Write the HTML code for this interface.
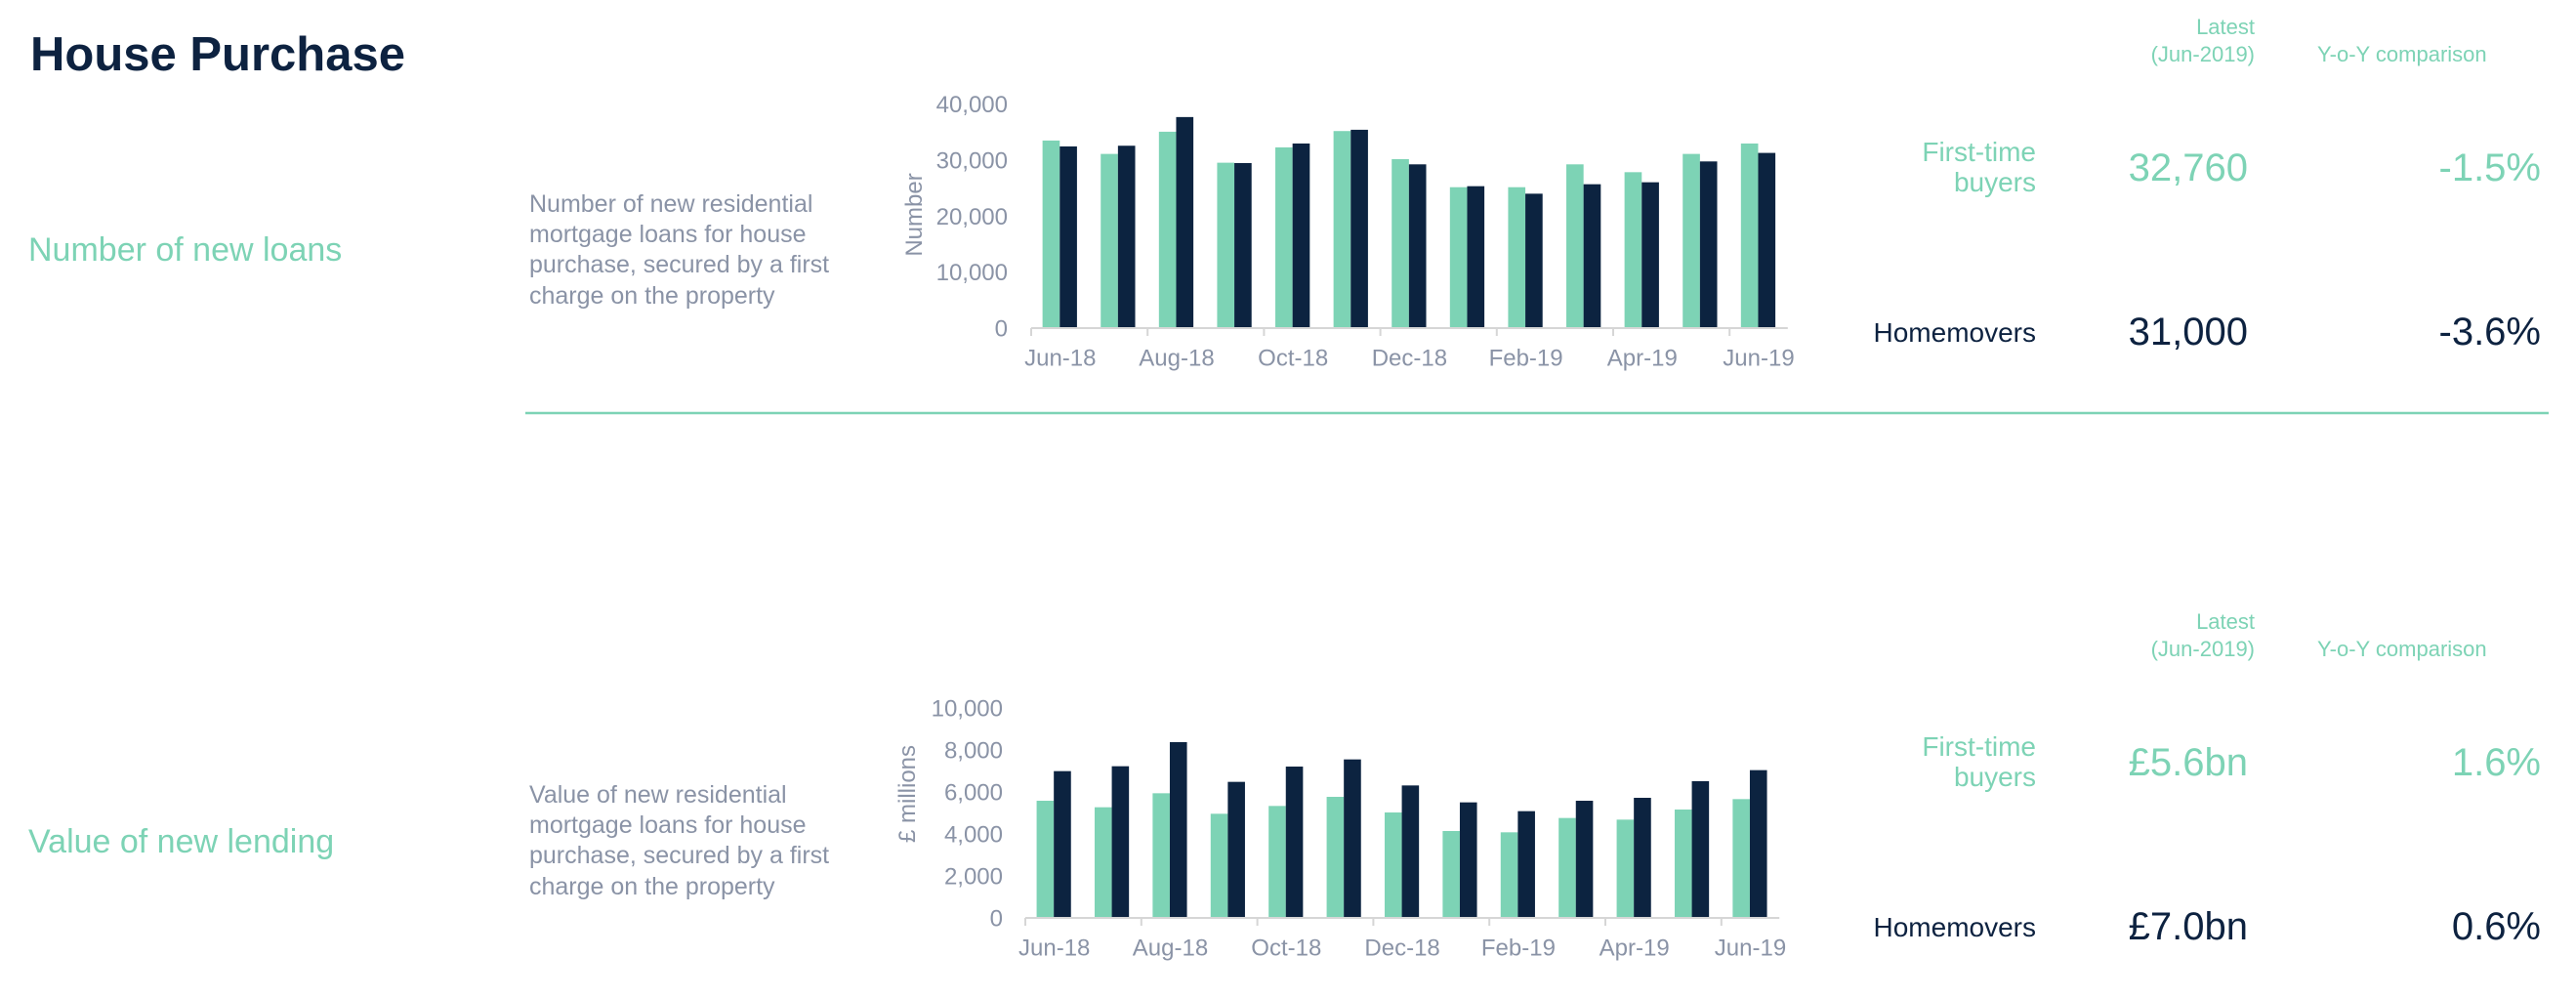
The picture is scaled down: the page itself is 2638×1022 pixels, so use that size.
<!DOCTYPE html>
<html><head><meta charset="utf-8"><style>
html,body{margin:0;padding:0;background:#fff;}
svg{display:block;font-family:"Liberation Sans",Arial,sans-serif;}
</style></head><body>
<svg id="page" width="2638" height="1022" viewBox="0 0 2638 1022" xmlns="http://www.w3.org/2000/svg">
<rect width="2638" height="1022" fill="#fff"/>
<text x="31" y="72" font-size="49" font-weight="bold" fill="#0d2240">House Purchase</text>

<!-- Section 1 -->
<text x="29" y="267" font-size="34" fill="#7dd3b5">Number of new loans</text>
<g fill="#8a93a6" font-size="25">
<text x="542" y="217">Number of new residential</text>
<text x="542" y="248">mortgage loans for house</text>
<text x="542" y="279">purchase, secured by a first</text>
<text x="542" y="311">charge on the property</text>
</g>
<g id="chart1"></g>
<text x="2309" y="35" font-size="22" fill="#7dd3b5" text-anchor="end">Latest</text>
<text x="2309" y="63" font-size="22" fill="#7dd3b5" text-anchor="end">(Jun-2019)</text>
<text x="2373" y="63" font-size="22" fill="#7dd3b5">Y-o-Y comparison</text>
<text x="2085" y="165" font-size="28" fill="#7dd3b5" text-anchor="end">First-time</text>
<text x="2085" y="196" font-size="28" fill="#7dd3b5" text-anchor="end">buyers</text>
<text x="2302" y="185" font-size="40" fill="#7dd3b5" text-anchor="end">32,760</text>
<text x="2602" y="185" font-size="40" fill="#7dd3b5" text-anchor="end">-1.5%</text>
<text x="2085" y="350" font-size="28" fill="#0d2240" text-anchor="end">Homemovers</text>
<text x="2302" y="353" font-size="40" fill="#0d2240" text-anchor="end">31,000</text>
<text x="2602" y="353" font-size="40" fill="#0d2240" text-anchor="end">-3.6%</text>
<line x1="538" y1="423" x2="2610" y2="423" stroke="#7dd3b5" stroke-width="2.5"/>

<!-- Section 2 -->
<text x="29" y="873" font-size="34" fill="#7dd3b5">Value of new lending</text>
<g fill="#8a93a6" font-size="25">
<text x="542" y="822">Value of new residential</text>
<text x="542" y="853">mortgage loans for house</text>
<text x="542" y="884">purchase, secured by a first</text>
<text x="542" y="916">charge on the property</text>
</g>
<g id="chart2"></g>
<text x="2309" y="644" font-size="22" fill="#7dd3b5" text-anchor="end">Latest</text>
<text x="2309" y="672" font-size="22" fill="#7dd3b5" text-anchor="end">(Jun-2019)</text>
<text x="2373" y="672" font-size="22" fill="#7dd3b5">Y-o-Y comparison</text>
<text x="2085" y="774" font-size="28" fill="#7dd3b5" text-anchor="end">First-time</text>
<text x="2085" y="805" font-size="28" fill="#7dd3b5" text-anchor="end">buyers</text>
<text x="2302" y="794" font-size="40" fill="#7dd3b5" text-anchor="end">£5.6bn</text>
<text x="2602" y="794" font-size="40" fill="#7dd3b5" text-anchor="end">1.6%</text>
<text x="2085" y="959" font-size="28" fill="#0d2240" text-anchor="end">Homemovers</text>
<text x="2302" y="962" font-size="40" fill="#0d2240" text-anchor="end">£7.0bn</text>
<text x="2602" y="962" font-size="40" fill="#0d2240" text-anchor="end">0.6%</text>
</svg>
<script>
const NS = "http://www.w3.org/2000/svg";
const categories = ["Jun-18","Jul-18","Aug-18","Sep-18","Oct-18","Nov-18","Dec-18","Jan-19","Feb-19","Mar-19","Apr-19","May-19","Jun-19"];
const tickLabels = ["Jun-18","Aug-18","Oct-18","Dec-18","Feb-19","Apr-19","Jun-19"];
const loansFTB = [33480,31090,35050,29520,32260,35170,30160,25150,25150,29230,27830,31090,32950];
const loansHM = [32430,32550,37670,29460,32950,35400,29230,25330,23990,25680,26030,29750,31270];
const loansTicks = [0,10000,20000,30000,40000];
const valueFTB = [5581,5271,5938,4961,5333,5767,5023,4140,4078,4760,4682,5163,5659];
const valueHM = [6992,7225,8372,6481,7209,7550,6310,5504,5085,5581,5721,6512,7039];
const valueTicks = [0,2000,4000,6000,8000,10000];

function mk(tag, attrs, parent){
  const e = document.createElementNS(NS, tag);
  for (const k in attrs) e.setAttribute(k, attrs[k]);
  parent.appendChild(e); return e;
}
function drawChart(g, cfg, s1, s2, ticks){
  const xCat = i => cfg.x0 + i*cfg.cw;
  const y = v => cfg.y0 - v/cfg.max*(cfg.y0-cfg.yTop);
  const bw = cfg.cw*0.296, off = cfg.cw*0.195;
  ticks.forEach(t => {
    const tx = mk("text",{x:cfg.yLabX,y:y(t)+8.5,"font-size":24,fill:"#8a93a6","text-anchor":"end"},g);
    tx.textContent = t.toLocaleString("en-US");
    
    
  });
  s1.forEach((v,i) => {
    const r = mk("rect",{x:xCat(i)+off,y:y(v),width:bw,height:cfg.y0-y(v),fill:"#7dd3b5"},g);
    
    
  });
  s2.forEach((v,i) => {
    const r = mk("rect",{x:xCat(i)+off+bw,y:y(v),width:bw,height:cfg.y0-y(v),fill:"#0c2340"},g);
    
    
  });
  const ax = mk("line",{x1:cfg.x0,y1:cfg.y0,x2:xCat(categories.length),y2:cfg.y0,stroke:"#d6d6d6","stroke-width":2},g);
  
  
  tickLabels.forEach(lab => {
    const i = categories.indexOf(lab);
    const tk = mk("line",{x1:xCat(i),y1:cfg.y0,x2:xCat(i),y2:cfg.y0+8,stroke:"#d6d6d6","stroke-width":2},g);
    
    
    const tx = mk("text",{x:xCat(i)+cfg.cw/2,y:cfg.y0+38.5,"font-size":24,fill:"#8a93a6","text-anchor":"middle"},g);
    tx.textContent = lab;
    
    
  });
  const yt = mk("text",{transform:`translate(${cfg.titleX},${cfg.titleY}) rotate(-90)`,"font-size":24,fill:"#8a93a6","text-anchor":"middle"},g);
  yt.textContent = cfg.title;
  
  
}
drawChart(document.getElementById("chart1"),{x0:1056,cw:59.6,y0:336,yTop:106.5,max:40000,yLabX:1032,titleX:944,titleY:220,title:"Number"},loansFTB,loansHM,loansTicks);
drawChart(document.getElementById("chart2"),{x0:1050,cw:59.4,y0:940,yTop:725,max:10000,yLabX:1027,titleX:937,titleY:813,title:"£ millions"},valueFTB,valueHM,valueTicks);
</script>
</body></html>
